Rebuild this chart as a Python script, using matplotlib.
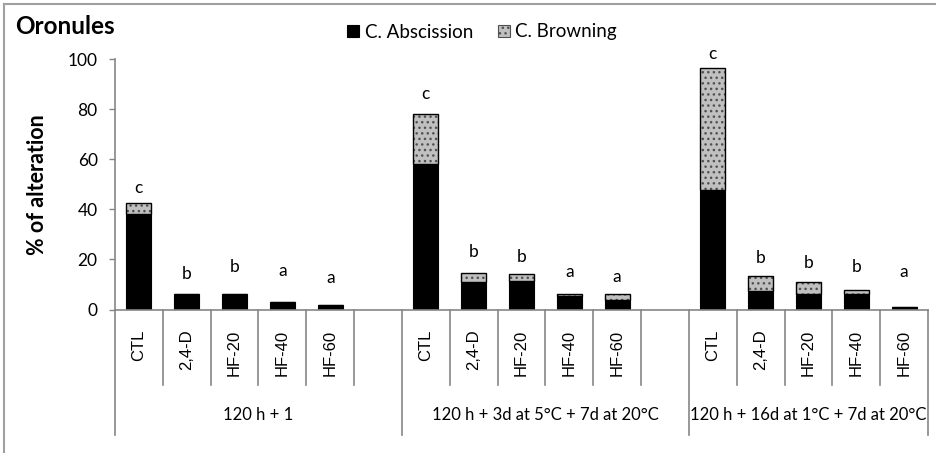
import numpy as np
import matplotlib.pyplot as plt
from matplotlib.lines import Line2D
from matplotlib.patches import Patch
import matplotlib.transforms as mtransforms

plt.rcParams['hatch.linewidth'] = 1.0
plt.rcParams['hatch.color'] = '#505050'

# Data: % of alteration per treatment, three storage conditions
groups = ['120 h + 1', '120 h + 3d at 5\u00b0C + 7d at 20\u00b0C',
          '120 h + 16d at 1\u00b0C + 7d at 20\u00b0C']
treatments = ['CTL', '2,4-D', 'HF-20', 'HF-40', 'HF-60']
abscission = [[38.1, 6.2, 6.2, 2.9, 1.8],
              [58.2, 10.9, 11.4, 5.4, 3.9],
              [47.8, 7.4, 6.3, 6.3, 1.1]]
browning = [[4.3, 0.0, 0.0, 0.0, 0.0],
            [19.9, 3.8, 2.8, 0.8, 2.3],
            [48.7, 6.1, 4.6, 1.6, 0.0]]
letters = [['c', 'b', 'b', 'a', 'a'],
           ['c', 'b', 'b', 'a', 'a'],
           ['c', 'b', 'b', 'b', 'a']]
letter_y = [[48.6, 14.2, 17.0, 15.5, 12.6],
            [86.2, 23.1, 21.1, 15.1, 13.1],
            [102.2, 20.5, 18.5, 16.9, 14.9]]
# number of category slots per group (blank slot after the first two groups)
slots = [6, 6, 5]

W, H = 936, 453
fig = plt.figure(figsize=(W / 100, H / 100), dpi=100)
ax = fig.add_axes([115 / W, (H - 309.5) / H, (928 - 115) / W, 250.2 / H])

grey = '#868686'
lato = 'Lato'
bw = 0.52

starts = np.cumsum([0] + slots)
for g in range(3):
    x = starts[g] + np.arange(len(treatments)) + 0.5
    a = np.array(abscission[g])
    b = np.array(browning[g])
    ax.bar(x, a, width=bw, color='black', edgecolor='black', lw=0.8, zorder=2)
    ax.bar(x, b, bottom=a, width=bw, color='#c0c0c0', edgecolor='#505050',
           lw=0, hatch='...', zorder=2)
    ax.bar(x, b, bottom=a, width=bw, fill=False, edgecolor='black', lw=1.0,
           zorder=3)
    for xi, t, ly in zip(x, letters[g], letter_y[g]):
        ax.text(xi, ly, t, ha='center', va='center', fontsize=12.5,
                family=lato, clip_on=False)

ax.set_xlim(0, sum(slots))
ax.set_ylim(0, 100)
ax.set_yticks(np.arange(0, 101, 20))
ax.tick_params(axis='y', length=4.5, width=1, color=grey, pad=8,
               labelsize=12.5)
for lab in ax.get_yticklabels():
    lab.set_family(lato)
ax.set_xticks([])
for s in ['top', 'right']:
    ax.spines[s].set_visible(False)
for s in ['left', 'bottom']:
    ax.spines[s].set_color(grey)
    ax.spines[s].set_linewidth(1.2)

# category and group separators below the axis
trans = mtransforms.blended_transform_factory(ax.transData, ax.transAxes)
group_edges = set(starts.tolist())
for k in range(sum(slots) + 1):
    y_end = -0.50 if k in group_edges else -0.30
    ax.add_line(Line2D([k, k], [0, y_end], transform=trans, color=grey,
                       lw=1.2, clip_on=False))

for g in range(3):
    x = starts[g] + np.arange(len(treatments)) + 0.5
    for xi, t in zip(x, treatments):
        ax.text(xi, -0.08, t, transform=trans, rotation=90, ha='center',
                va='top', fontsize=12, family='Liberation Sans')
    ax.text((starts[g] + starts[g + 1]) / 2, -0.42, groups[g], transform=trans,
            ha='center', va='center', fontsize=12, family=lato)

ax.set_ylabel('% of alteration', fontsize=15.5, fontweight='bold',
              family=lato)
ax.yaxis.set_label_coords(-(115 - 48) / (928 - 115), 0.5)

fig.text(15 / W, 1 - 26 / H, 'Oronules', fontsize=17.5, fontweight='bold',
         family=lato, va='center', ha='left')

handles = [Patch(facecolor='black', edgecolor='black', lw=0.8),
           Patch(facecolor='#c0c0c0', edgecolor='#505050', hatch='...',
                 lw=0.8)]
fig.legend(handles, ['C. Abscission', 'C. Browning'], loc='center',
           bbox_to_anchor=(482 / W, 1 - 32 / H), ncol=2, frameon=False,
           handlelength=0.65, handleheight=0.65, handletextpad=0.3,
           columnspacing=1.3, prop={'family': lato, 'size': 13.5})

# chart border
fig.add_artist(Line2D([4 / W, 4 / W], [0, 1 - 4 / H], color='#a0a0a0', lw=1.5,
                      transform=fig.transFigure))
fig.add_artist(Line2D([4 / W, 1], [1 - 4 / H, 1 - 4 / H], color='#a0a0a0',
                      lw=1.5, transform=fig.transFigure))

fig.savefig('out.png', dpi=100)
